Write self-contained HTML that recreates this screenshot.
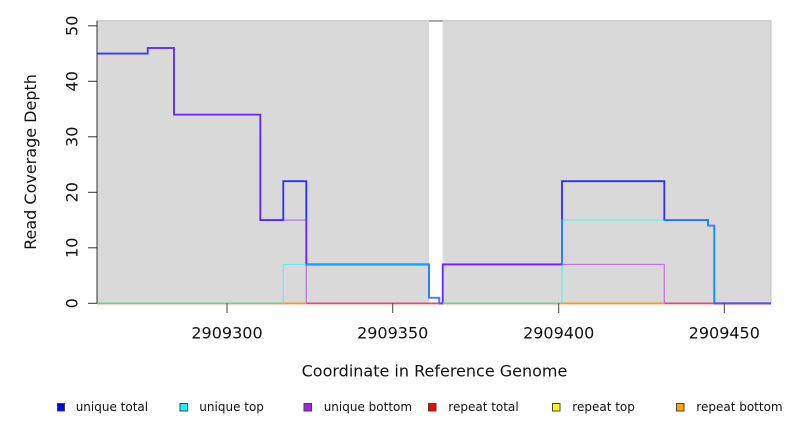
<!DOCTYPE html>
<html>
<head>
<meta charset="utf-8">
<style>
  html, body { margin: 0; padding: 0; background: #ffffff; }
  svg { display: block; }
  text { font-family: "DejaVu Sans", "Liberation Sans", sans-serif; fill: #111; }
</style>
</head>
<body>
<svg width="792" height="432" viewBox="0 0 792 432" xmlns="http://www.w3.org/2000/svg">
  <!-- plot background regions -->
  <rect x="97" y="20.5" width="332" height="282.8" fill="#d9d9d9"/>
  <rect x="442.7" y="20.5" width="328.3" height="282.8" fill="#d9d9d9"/>
  <line x1="97" y1="20.8" x2="771" y2="20.8" stroke="#bdbdbd" stroke-width="1"/>
  <line x1="429" y1="21" x2="442.7" y2="21" stroke="#808080" stroke-width="1.2"/>
  <line x1="771" y1="20.5" x2="771" y2="303.3" stroke="#bdbdbd" stroke-width="1"/>

  <!-- faint line under baseline -->
  <line x1="97" y1="304.8" x2="771" y2="304.8" stroke="#f3d3cb" stroke-width="1"/>

  <!-- unique total -->
  <path d="M97,53.55 H147.7 V48 H174 V114.6 H260.3 V220.05 H283.3 V181.2 H306.3 V264.45 H429 V297.75 H439.3 V303.3 H442.7 V264.45 H562 V181.2 H664.3 V220.05 H708 V225.6 H714.3 V303.3 H771"
        fill="none" stroke="#1a1aff" stroke-width="1.8" stroke-opacity="0.9"/>
  <!-- unique bottom -->
  <path d="M97,53.55 H147.7 V48 H174 V114.6 H260.3 V220.05 H306.3 V303.3 H442.7 V264.45 H664.3 V303.3"
        fill="none" stroke="#a020f0" stroke-width="1.2" stroke-opacity="0.55"/>
  <!-- unique top -->
  <path d="M283.3,303.3 V264.45 H429 V297.75 H439.3 V303.3 M562,303.3 V220.05 H708 V225.6 H714.3 V303.3"
        fill="none" stroke="#00ffff" stroke-width="1.2" stroke-opacity="0.55"/>

  <!-- zero-level blended lines -->
  <g stroke-width="1.6" fill="none">
    <line x1="97" y1="303.3" x2="283.3" y2="303.3" stroke="#72d08e"/>
    <line x1="283.3" y1="303.3" x2="306.3" y2="303.3" stroke="#ff9a10"/>
    <line x1="306.3" y1="303.3" x2="439.3" y2="303.3" stroke="#d64c82"/>
    <line x1="439.3" y1="303.3" x2="442.7" y2="303.3" stroke="#6a40f0"/>
    <line x1="442.7" y1="303.3" x2="562" y2="303.3" stroke="#72d08e"/>
    <line x1="562" y1="303.3" x2="664.3" y2="303.3" stroke="#ff9a10"/>
    <line x1="664.3" y1="303.3" x2="714.3" y2="303.3" stroke="#d64c82"/>
    <line x1="714.3" y1="303.3" x2="771" y2="303.3" stroke="#5a4cf0"/>
  </g>

  <!-- y axis -->
  <line x1="97" y1="20.7" x2="97" y2="303.3" stroke="#333" stroke-width="1"/>
  <g stroke="#333" stroke-width="1">
    <line x1="88" y1="303.3" x2="97" y2="303.3"/>
    <line x1="88" y1="247.8" x2="97" y2="247.8"/>
    <line x1="88" y1="192.3" x2="97" y2="192.3"/>
    <line x1="88" y1="136.8" x2="97" y2="136.8"/>
    <line x1="88" y1="81.3" x2="97" y2="81.3"/>
    <line x1="88" y1="25.8" x2="97" y2="25.8"/>
  </g>
  <g font-size="16" text-anchor="middle">
    <text transform="translate(77.5,303.3) rotate(-90)">0</text>
    <text transform="translate(77.5,247.8) rotate(-90)">10</text>
    <text transform="translate(77.5,192.3) rotate(-90)">20</text>
    <text transform="translate(77.5,136.8) rotate(-90)">30</text>
    <text transform="translate(77.5,81.3) rotate(-90)">40</text>
    <text transform="translate(77.5,25.8) rotate(-90)">50</text>
  </g>
  <text font-size="16" text-anchor="middle" transform="translate(36,162) rotate(-90)">Read Coverage Depth</text>

  <!-- x axis -->
  <g stroke="#444" stroke-width="1">
    <line x1="227" y1="303.3" x2="227" y2="313"/>
    <line x1="392.7" y1="303.3" x2="392.7" y2="313"/>
    <line x1="558.7" y1="303.3" x2="558.7" y2="313"/>
    <line x1="724.3" y1="303.3" x2="724.3" y2="313"/>
  </g>
  <g font-size="16" text-anchor="middle">
    <text x="227" y="338.3">2909300</text>
    <text x="392.7" y="338.3">2909350</text>
    <text x="558.7" y="338.3">2909400</text>
    <text x="724.3" y="338.3">2909450</text>
  </g>
  <text x="434.5" y="376.7" font-size="16" text-anchor="middle">Coordinate in Reference Genome</text>

  <!-- legend -->
  <g stroke="#444" stroke-width="1">
    <rect x="57.5" y="403.5" width="7" height="7.5" fill="#0000ff"/>
    <rect x="180" y="403.5" width="7.5" height="7.5" fill="#00ffff"/>
    <rect x="304" y="403.5" width="7.5" height="7.5" fill="#a020f0"/>
    <rect x="428.5" y="403.5" width="7.5" height="7.5" fill="#ff0000"/>
    <rect x="552.5" y="403.5" width="7.5" height="7.5" fill="#ffff00"/>
    <rect x="676.5" y="403.5" width="7.5" height="7.5" fill="#ffa500"/>
  </g>
  <g font-size="12">
    <text x="75.7" y="411.2">unique total</text>
    <text x="199.3" y="411.2">unique top</text>
    <text x="323.7" y="411.2">unique bottom</text>
    <text x="448.3" y="411.2">repeat total</text>
    <text x="572.3" y="411.2">repeat top</text>
    <text x="696.3" y="411.2">repeat bottom</text>
  </g>
</svg>
</body>
</html>
